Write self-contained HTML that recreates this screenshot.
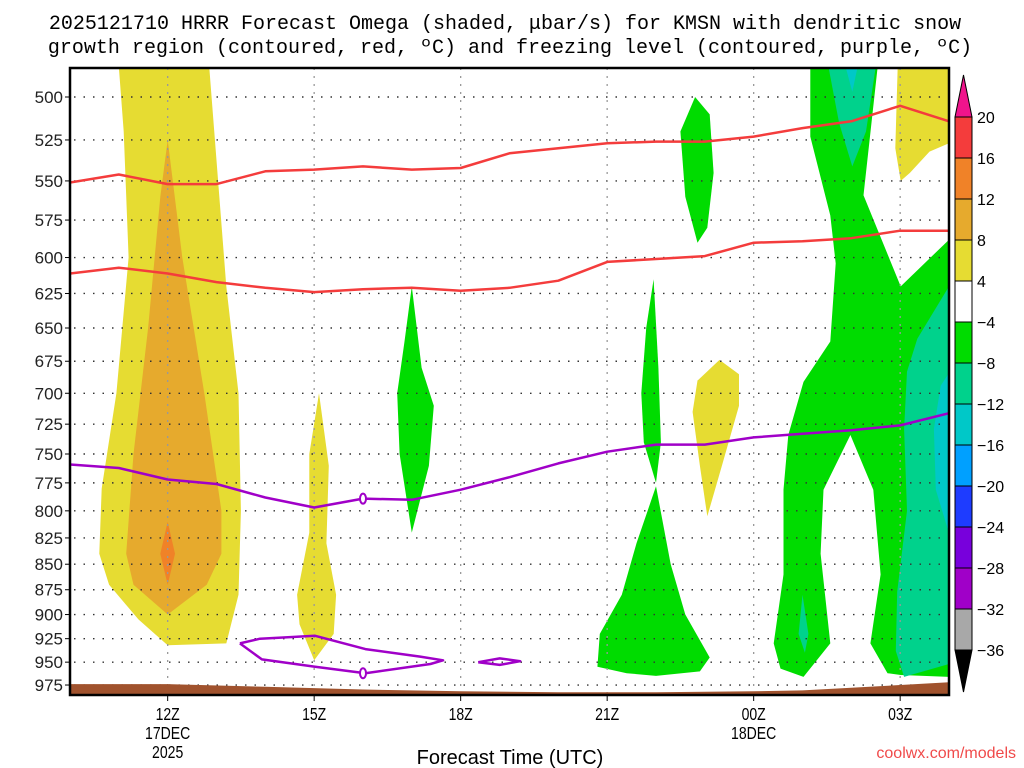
<!DOCTYPE html>
<html><head><meta charset="utf-8"><style>
html,body{margin:0;padding:0;background:#fff;}
svg{display:block;}
text{font-family:"Liberation Sans",sans-serif;}
</style></head><body>
<svg id="chart" width="1024" height="768" xmlns="http://www.w3.org/2000/svg">
<text x="505" y="29" text-anchor="middle" font-size="20" style="font-family:'Liberation Mono',monospace">2025121710 HRRR Forecast Omega (shaded, μbar/s) for KMSN with dendritic snow</text>
<text x="510" y="53" text-anchor="middle" font-size="20" style="font-family:'Liberation Mono',monospace">growth region (contoured, red, ºC) and freezing level (contoured, purple, ºC)</text>
<defs><clipPath id="plotclip"><rect x="70" y="68" width="879" height="627"/></clipPath></defs>
<g id="fills" clip-path="url(#plotclip)"></g>
<g id="grid"></g>
<g id="lines" clip-path="url(#plotclip)"></g>
<g id="axes"></g>
<g id="cbar"></g>
<text x="510" y="764" text-anchor="middle" font-size="20">Forecast Time (UTC)</text>
<text x="1016" y="758" text-anchor="end" font-size="16" fill="#f04a4a">coolwx.com/models</text>
</svg>
<script>
// Axis ticks
const pressureTicks = [500,525,550,575,600,625,650,675,700,725,750,775,800,825,850,875,900,925,950,975];
const timeTickHours = [12,15,18,21,24,27];
const timeTickLabels = [["12Z","17DEC","2025"],["15Z"],["18Z"],["21Z"],["00Z","18DEC"],["03Z"]];
// Contour lines: hourly values 10Z..28(04Z)
const lineHours = [10,11,12,13,14,15,16,17,18,19,20,21,22,23,24,25,26,27,28];
const dgzTop = [551,546,552,552,544,543,541,543,542,533,530,527,526,526,523,518,514,505,514];
const dgzBottom = [611,607,611,617,621,624,622,621,623,621,616,603,601,599,590,589,587,582,582];
const freezingLevel = [759,762,772,776,788,797,789,790,781,770,758,748,742,742,736,733,730,726,716];
const freezeLoop = [[13.48,930],[13.89,925],[15.02,922],[16.05,936],[17.17,944],[17.64,948],[17.38,952],[16.05,962],[15.02,955],[13.93,947],[13.48,930]];
const freezeLoop2 = [[18.36,950],[18.8,946],[19.22,949],[18.8,953],[18.36,950]];
const groundHours = [10,12,14,16,18,20,22,24,25,26,27,28];
const groundPressure = [974,974,977,980,982,983,983,982,981,978,975,972];
// Colorbar
const cbarLevels = [20,16,12,8,4,-4,-8,-12,-16,-20,-24,-28,-32,-36];
const cbarColors = ["#f43c3c","#f08228","#e6aa2d","#e6dc32","#ffffff","#00dc00","#00d28c","#00c8c8","#00a0ff","#1e3cff","#7800dc","#a000c8","#a8a8a8"];
// Shaded omega regions: [hour, pressure]
const yellowLeft = [[11.0,483],[12.85,483],[13.2,620],[13.45,700],[13.5,800],[13.45,880],[13.2,930],[12.0,932],[11.4,905],[10.8,870],[10.6,840],[10.65,780],[10.95,700],[11.2,600],[11.1,520]];
const goldLeft = [[12.0,525],[12.3,600],[12.75,700],[13.1,800],[13.1,840],[12.8,870],[12.0,900],[11.3,870],[11.15,840],[11.3,750],[11.6,650],[11.85,560]];
const orangeLeft = [[12.0,810],[12.15,840],[12.0,870],[11.85,840]];
const yellowThin = [[15.1,700],[15.3,760],[15.25,830],[15.45,880],[15.4,920],[15.0,948],[14.7,910],[14.65,880],[14.9,820],[14.9,750]];
const green17 = [[17.0,620],[17.2,680],[17.45,710],[17.35,760],[17.0,820],[16.75,750],[16.7,700],[16.85,660]];
const green22a = [[21.95,615],[22.05,680],[22.1,740],[22.0,775],[21.75,740],[21.7,700],[21.8,650]];
const green22b = [[22.0,778],[22.3,850],[22.6,900],[23.1,945],[22.9,960],[22.0,965],[21.4,962],[20.8,955],[20.85,920],[21.3,880],[21.6,830]];
const green23 = [[22.8,500],[23.1,510],[23.18,545],[23.05,580],[22.85,590],[22.6,560],[22.5,520]];
const yellow23 = [[22.85,690],[23.3,674],[23.7,685],[23.7,710],[23.35,760],[23.05,805],[22.9,760],[22.75,715]];
const greenBig = [[25.16,483],[26.54,483],[26.25,559],[27.01,620],[28.0,588],[28.0,966],[27.01,964],[26.74,962],[26.39,930],[26.6,860],[26.45,781],[25.98,734],[25.43,781],[25.37,840],[25.57,930],[25.02,966],[24.55,957],[24.41,930],[24.61,860],[24.61,781],[24.71,734],[25.02,691],[25.57,660],[25.68,604],[25.57,572],[25.16,523]];
const tealTop = [[25.53,483],[26.5,483],[26.3,520],[26.02,541],[25.75,515]];
const cyanTop = [[25.88,483],[26.13,483],[26.02,497]];
const tealRight = [[28,620],[27.35,658],[27.14,683],[27.08,729],[27.14,800],[26.94,877],[26.91,938],[27.08,966],[28,952]];
const cyanRight = [[28,684],[27.83,694],[27.69,729],[27.73,781],[27.97,816],[28,816]];
const tealBlob = [[25.0,880],[25.12,920],[25.05,940],[24.92,920]];
const yellowTopRight = [[26.95,483],[28,483],[28,527],[27.6,532],[27.2,545],[27.01,550],[26.9,530]];

const NS="http://www.w3.org/2000/svg";
const X0=70,X1=949,Y0=68,Y1=695,H0=10,H1=28;
function xs(h){return X0+(h-H0)*(X1-X0)/(H1-H0);}
function ys(p){return 97+880.5*Math.log(p/500);}
function mk(tag,attrs,parent){const e=document.createElementNS(NS,tag);for(const k in attrs)e.setAttribute(k,attrs[k]);parent.appendChild(e);return e;}
const fills=document.getElementById('fills'),grid=document.getElementById('grid'),lines=document.getElementById('lines'),axes=document.getElementById('axes'),cbar=document.getElementById('cbar');
function poly(pts,color,name){
  const e=mk('polygon',{points:pts.map(d=>xs(d[0]).toFixed(1)+','+ys(d[1]).toFixed(1)).join(' '),fill:color},fills);
  
  
}
poly(yellowLeft,"#e6dc32","omega-yellow-left");
poly(goldLeft,"#e6aa2d","omega-gold-left");
poly(orangeLeft,"#f08228","omega-orange-left");
poly(yellowThin,"#e6dc32","omega-yellow-15z");
poly(green17,"#00dc00","omega-green-17z");
poly(green22a,"#00dc00","omega-green-22z-upper");
poly(green22b,"#00dc00","omega-green-22z-lower");
poly(green23,"#00dc00","omega-green-23z");
poly(yellow23,"#e6dc32","omega-yellow-23z");
poly(greenBig,"#00dc00","omega-green-right");
poly(tealTop,"#00d28c","omega-teal-top");
poly(cyanTop,"#00c8c8","omega-cyan-top");
poly(tealRight,"#00d28c","omega-teal-right");
poly(cyanRight,"#00c8c8","omega-cyan-right");
poly(tealBlob,"#00d28c","omega-teal-blob");
poly(yellowTopRight,"#e6dc32","omega-yellow-top-right");
// grid
pressureTicks.forEach(p=>{
  const y=ys(p);
  const l=mk('line',{x1:X0+4,x2:X1,y1:y,y2:y,stroke:"#333","stroke-width":1.4,"stroke-dasharray":"1.5 8"},grid);
  
  
  const t=mk('line',{x1:X0-5,x2:X0,y1:y,y2:y,stroke:"#000"},axes);
  
  
  const tx=mk('text',{x:X0-7,y:y+6,"text-anchor":"end","font-size":17,fill:"#222"},axes);
  tx.textContent=p;
  
  
});
timeTickHours.forEach((h,i)=>{
  const x=xs(h);
  const l=mk('line',{x1:x,x2:x,y1:Y0,y2:Y1,stroke:"#999","stroke-width":1.3,"stroke-dasharray":"2 6"},grid);
  
  
  const t=mk('line',{x1:x,x2:x,y1:Y1,y2:Y1+6,stroke:"#000"},axes);
  
  
  timeTickLabels[i].forEach((s,j)=>{
    const tx=mk('text',{x:x,y:Y1+25+j*19,"text-anchor":"middle","font-size":18,transform:`translate(${x},0) scale(0.78,1) translate(${-x},0)`},axes);
    tx.textContent=s;
    
    
  });
});
// ground
{
  let d='M'+xs(groundHours[0])+','+Y1;
  groundHours.forEach((h,i)=>{d+=' L'+xs(h).toFixed(1)+','+ys(groundPressure[i]).toFixed(1);});
  d+=' L'+X1+','+Y1+' Z';
  const g=mk('path',{d:d,fill:"#a0522d"},lines);
  
  
}
function line(hs,ps,color,name){
  const e=mk('polyline',{points:hs.map((h,i)=>xs(h).toFixed(1)+','+ys(ps[i]).toFixed(1)).join(' '),fill:"none",stroke:color,"stroke-width":2.5,"stroke-linejoin":"round"},lines);
  
  
}
line(lineHours,dgzTop,"#f43c3c","dgz-top-line");
line(lineHours,dgzBottom,"#f43c3c","dgz-bottom-line");
line(lineHours,freezingLevel,"#a000c8","freezing-level-line");
line(freezeLoop.map(d=>d[0]),freezeLoop.map(d=>d[1]),"#a000c8","freezing-level-loop");
line(freezeLoop2.map(d=>d[0]),freezeLoop2.map(d=>d[1]),"#a000c8","freezing-level-loop-small");
[[16,789],[16,962]].forEach(d=>{
  const e=mk('ellipse',{cx:xs(d[0]),cy:ys(d[1]),rx:3,ry:5,fill:"#fff",stroke:"#a000c8","stroke-width":2},lines);
  
  
});
// frame
{
  const f=mk('rect',{x:X0,y:Y0,width:X1-X0,height:Y1-Y0,fill:"none",stroke:"#000","stroke-width":2.5},axes);
  
  
}
// colorbar
const CX=955,CW=17,CT=117,CS=41;
cbarColors.forEach((c,i)=>{
  const r=mk('rect',{x:CX,y:CT+i*CS,width:CW,height:CS,fill:c,stroke:"#000","stroke-width":1},cbar);
  
  
});
{
  const t=mk('polygon',{points:`${CX},${CT} ${CX+CW},${CT} ${CX+CW/2},${CT-42}`,fill:"#f0148c",stroke:"#000"},cbar);
  
  
  const yb=CT+cbarColors.length*CS;
  const b=mk('polygon',{points:`${CX},${yb} ${CX+CW},${yb} ${CX+CW/2},${yb+42}`,fill:"#000",stroke:"#000"},cbar);
  
  
}
cbarLevels.forEach((v,i)=>{
  const tx=mk('text',{x:CX+CW+5,y:CT+i*CS+6,"font-size":16},cbar);
  tx.textContent=v<0?'\u2212'+(-v):String(v);
  
  
});
</script>
</body></html>
